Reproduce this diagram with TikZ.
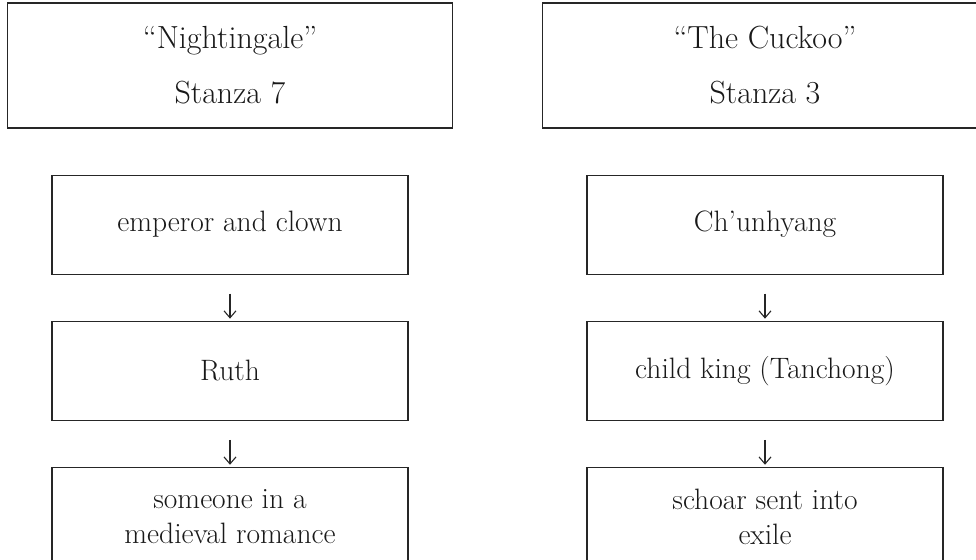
\documentclass[tikz,border=0pt]{standalone}
\usetikzlibrary{positioning}
\usetikzlibrary{arrows.meta}

\begin{document}
\begin{tikzpicture}
                [x=1pt, y=-1pt, node distance=46pt,
                 every node/.style={draw=black!85, line width=1.1pt, align=center, inner sep=0pt,
                                    text=black!90, font=\fontsize{29.5}{35}\selectfont},
                 poem/.style={minimum width=445pt, minimum height=125pt, font=\fontsize{32}{55}\selectfont},
                 figure/.style={minimum width=356pt, minimum height=99pt},
                 leadsto/.style={draw=black!85, line width=1.1pt, -{Straight Barb[length=7pt, width=12pt]},
                                 shorten <=19pt, shorten >=2pt}]
                \useasboundingbox (0,0) rectangle (976,559);
                % left: Nightingale
                \node[poem] (night) at (230,65.5) {``Nightingale''\\Stanza 7};
                \node[figure] (emperor) [below=of night] {emperor and clown};
                \node[figure] (ruth) [below=of emperor] {Ruth};
                \node[figure] (romance) [below=of ruth] {someone in a\\medieval romance};
                % right: The Cuckoo
                \node[poem] (cuckoo) at (765,65.5) {``The Cuckoo''\\Stanza 3};
                \node[figure] (chun) [below=of cuckoo] {Ch'unhyang};
                \node[figure] (king) [below=of chun] {child king (Tanchong)};
                \node[figure] (exile) [below=of king] {schoar sent into\\exile};
                \draw[leadsto] (emperor) -- (ruth);
                \draw[leadsto] (ruth) -- (romance);
                \draw[leadsto] (chun) -- (king);
                \draw[leadsto] (king) -- (exile);
            \end{tikzpicture}
\end{document}
